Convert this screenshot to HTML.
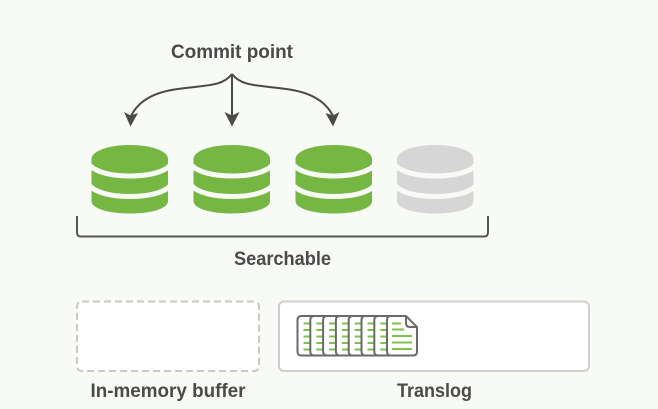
<!DOCTYPE html>
<html>
<head>
<meta charset="utf-8">
<style>
html,body{margin:0;padding:0;background:#f8faf6}
svg{display:block}
text{font-family:"Liberation Sans",sans-serif;font-weight:bold;font-size:19px;fill:#4a4a4a;text-anchor:middle}
</style>
</head>
<body>
<svg width="658" height="409" viewBox="0 0 658 409" xmlns="http://www.w3.org/2000/svg">
<defs>
<g id="cyl">
<path d="M91.500 159C91.500 151 108.500 145 130 145C151.500 145 168 151 168 159V201C168 208.500 151.500 213.500 130 213.500C108.500 213.500 91.500 208.500 91.500 201Z"/>
<path d="M90 165.500C96 172 111 176 130 176C149 176 164 172 170 165.500" fill="none" stroke="#f8faf6" stroke-width="5"/>
<path d="M90 186C96 192.500 111 196.500 130 196.500C149 196.500 164 192.500 170 186" fill="none" stroke="#f8faf6" stroke-width="5"/>
</g>
<g id="doc">
<path d="M4 0H30V39.500H4Q0 39.500 0 35.500V4Q0 0 4 0Z" fill="#fff" stroke="#6a6a6a" stroke-width="2"/>
<path d="M6 7.500H14M6 14H14M6 20.500H14M6 27H14M6 33.500H14" stroke="#7ec24a" stroke-width="2" fill="none"/>
</g>
</defs>

<text x="232" y="58" textLength="122" lengthAdjust="spacingAndGlyphs">Commit point</text>

<g fill="none" stroke="#4a4a4a" stroke-width="2">
<path d="M232 74V116"/>
<path d="M232 74C222 87 205 85 178 89C155 92 139 100 131 116"/>
<path d="M232 74C242 87 259 85 286 89C309 92 325 100 333 116"/>
</g>
<g fill="#4a4a4a">
<path d="M124 112L130.500 115.500L138 113L130.500 126.500Z"/>
<path d="M224.500 112L232 115.500L239.500 112L232 126.500Z"/>
<path d="M325.500 113L333 115.500L339.500 112L333 126.500Z"/>
</g>

<use href="#cyl" style="fill:#76b642"/>
<use href="#cyl" x="102" style="fill:#76b642"/>
<use href="#cyl" x="204" style="fill:#76b642"/>
<use href="#cyl" x="305.500" style="fill:#d6d6d6"/>

<path d="M77 216V232.500Q77 236.500 81 236.500H484Q488 236.500 488 232.500V216" fill="none" stroke="#555" stroke-width="2"/>
<text x="282.500" y="265" textLength="97" lengthAdjust="spacingAndGlyphs">Searchable</text>

<rect x="77" y="301.500" width="182" height="69.500" rx="5" fill="#fff" stroke="#c8c8c8" stroke-width="2" stroke-dasharray="7 4"/>
<rect x="279" y="301.500" width="310" height="69.500" rx="5" fill="#fff" stroke="#cfcfcf" stroke-width="2"/>

<use href="#doc" x="297.500" y="316"/>
<use href="#doc" x="310.300" y="316"/>
<use href="#doc" x="323.100" y="316"/>
<use href="#doc" x="335.900" y="316"/>
<use href="#doc" x="348.700" y="316"/>
<use href="#doc" x="361.500" y="316"/>
<use href="#doc" x="374.300" y="316"/>
<path d="M391 316H406L417 327V351.500Q417 355.500 413 355.500H391Q387 355.500 387 351.500V320Q387 316 391 316Z" fill="#fff" stroke="#6a6a6a" stroke-width="2"/>
<path d="M406 316V323Q406 327 410 327H417" fill="none" stroke="#6a6a6a" stroke-width="2"/>
<path d="M392 323.500H401M392 329.500H404M392 336H412M392 342.500H412M392 349H412" stroke="#7ec24a" stroke-width="2" fill="none"/>

<text x="168" y="397" textLength="155" lengthAdjust="spacingAndGlyphs">In-memory buffer</text>
<text x="434.500" y="397" textLength="75" lengthAdjust="spacingAndGlyphs">Translog</text>
</svg>
</body>
</html>
